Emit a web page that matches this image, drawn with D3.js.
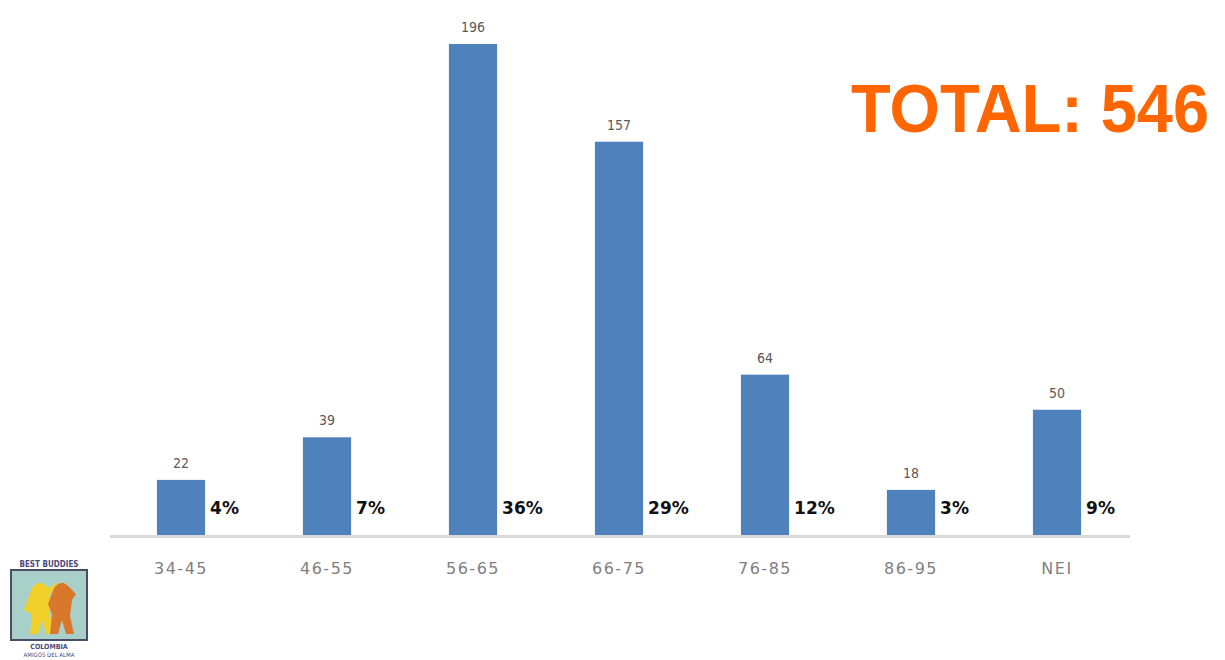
<!DOCTYPE html>
<html><head><meta charset="utf-8">
<script src="https://cdn.jsdelivr.net/npm/d3@7"></script>
<style>body{margin:0;background:#fff;}svg{display:block;}</style>
</head><body>
<svg id="c" width="1225" height="660"></svg>
<script>
const categories = ["34-45","46-55","56-65","66-75","76-85","86-95","NEI"];
const counts = [22,39,196,157,64,18,50];
const percents = ["4%","7%","36%","29%","12%","3%","9%"];
const totalLabel = "TOTAL: 546";

const svg = d3.select("#c");
const baseY = 535, topY = 44;
const x = d3.scaleBand().domain(categories).range([108,1130]).paddingInner(0.67).paddingOuter(0.335);
const y = d3.scaleLinear().domain([0,196]).range([baseY, topY]);

// axis line
svg.append("line").attr("x1",110).attr("x2",1130).attr("y1",baseY+1.5).attr("y2",baseY+1.5)
  .attr("stroke","#d9d9d9").attr("stroke-width",3);

const g = svg.append("g");
g.selectAll("rect.bar").data(counts).join("rect").attr("class","bar")
  .attr("x",(d,i)=>x(categories[i])).attr("width",x.bandwidth())
  .attr("y",d=>y(d)).attr("height",d=>baseY-y(d)).attr("fill","#4f81bd");

g.selectAll("text.val").data(counts).join("text").attr("class","val")
  .attr("x",(d,i)=>x(categories[i])+x.bandwidth()/2).attr("y",d=>y(d)-12)
  .attr("text-anchor","middle").attr("font-family","'DejaVu Sans Condensed', 'DejaVu Sans', sans-serif")
  .attr("font-size",14).attr("fill","#595959").text(d=>d);

g.selectAll("text.pct").data(percents).join("text").attr("class","pct")
  .attr("x",(d,i)=>x(categories[i])+x.bandwidth()+5).attr("y",514)
  .attr("font-family","'DejaVu Sans', sans-serif").attr("font-weight","bold")
  .attr("font-size",17).attr("fill","#111").text(d=>d);

g.selectAll("text.cat").data(categories).join("text").attr("class","cat")
  .attr("x",d=>x(d)+x.bandwidth()/2).attr("y",574)
  .attr("text-anchor","middle").attr("font-family","'DejaVu Sans', sans-serif")
  .attr("font-size",16).attr("letter-spacing",1.5).attr("fill","#7f7f7f").text(d=>d);

svg.append("text").attr("x",851).attr("y",132).attr("font-family","'Liberation Sans', Arial, sans-serif")
  .attr("font-weight","bold").attr("font-size",68).attr("fill","#ff6600")
  .attr("textLength",358).attr("lengthAdjust","spacingAndGlyphs").text(totalLabel);

// logo approximation
const lg = svg.append("g").attr("transform","translate(10,558)");
lg.append("text").attr("x",39).attr("y",9).attr("text-anchor","middle").attr("font-size",8)
  .attr("font-weight","bold").attr("font-family","'DejaVu Sans Condensed', sans-serif").attr("fill","#4a4a7a").text("BEST BUDDIES");
lg.append("rect").attr("x",1).attr("y",12).attr("width",76).attr("height",70).attr("fill","#a8cfc8").attr("stroke","#4a4a6a").attr("stroke-width",2);
lg.append("path").attr("d","M22,30 q8,-10 16,0 l12,-6 l-10,12 l0,22 l4,18 l-8,0 l-4,-14 l-4,14 l-8,0 l2,-20 l-8,-4 z").attr("fill","#f2d02a");
lg.append("path").attr("d","M44,30 q8,-10 16,0 l6,6 l-4,6 l-2,16 l4,18 l-8,0 l-4,-14 l-4,14 l-8,0 l2,-20 l-4,-10 z").attr("fill","#d9772a");
lg.append("text").attr("x",39).attr("y",91).attr("text-anchor","middle").attr("font-size",7)
  .attr("font-weight","bold").attr("font-family","'DejaVu Sans Condensed', sans-serif").attr("fill","#4a4a7a").text("COLOMBIA");
lg.append("text").attr("x",39).attr("y",99).attr("text-anchor","middle").attr("font-size",6)
  .attr("font-family","'DejaVu Sans Condensed', sans-serif").attr("fill","#4a4a7a").text("AMIGOS DEL ALMA");
</script>
</body></html>
